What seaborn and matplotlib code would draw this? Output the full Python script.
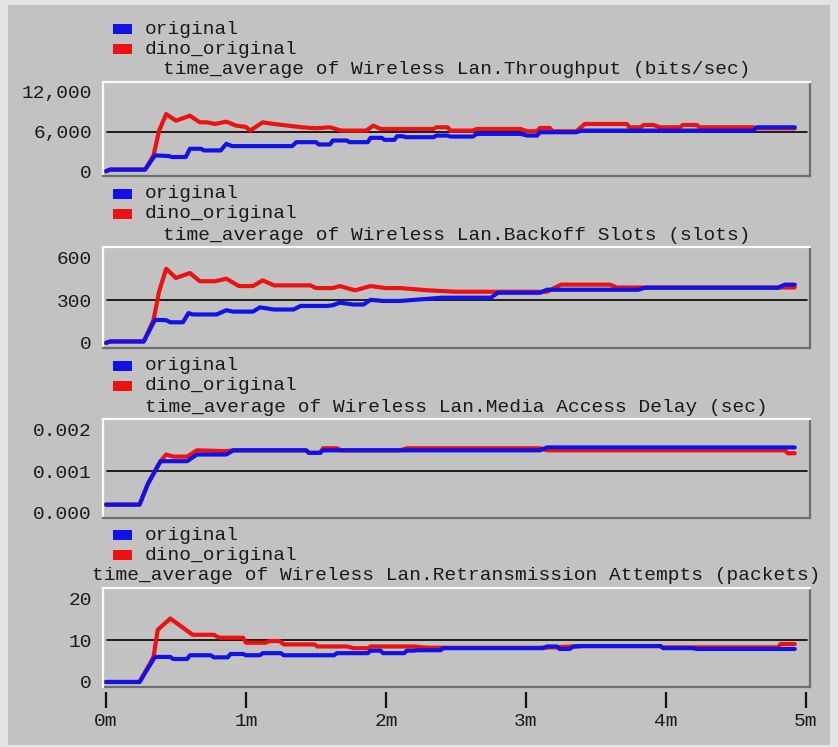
import matplotlib
matplotlib.use("Agg")
import matplotlib.pyplot as plt
from matplotlib.patches import Rectangle
import pandas as pd
import seaborn as sns

W, H = 838, 747

series_names = ["original", "dino_original"]
series_colors = {"original": "#1212e6", "dino_original": "#ec1212"}

titles = [
    "time_average of Wireless Lan.Throughput (bits/sec)",
    "time_average of Wireless Lan.Backoff Slots (slots)",
    "time_average of Wireless Lan.Media Access Delay (sec)",
    "time_average of Wireless Lan.Retransmission Attempts (packets)",
]
y_ticks = [[0, 6000, 12000], [0, 300, 600], [0, 0.001, 0.002], [0, 10, 20]]
y_tick_labels = [
    ["0", "6,000", "12,000"],
    ["0", "300", "600"],
    ["0.000", "0.001", "0.002"],
    ["0", "10", "20"],
]
x_ticks = [0, 1, 2, 3, 4, 5]
x_tick_labels = ["0m", "1m", "2m", "3m", "4m", "5m"]

# throughput (bits/sec), time in minutes
thr_orig_t = [0.00, 0.03, 0.28, 0.35, 0.45, 0.47, 0.57, 0.60, 0.68, 0.70, 0.82, 0.86, 0.90, 1.33,
              1.36, 1.50, 1.52, 1.60, 1.62, 1.72, 1.74, 1.87, 1.89, 1.97, 1.99, 2.06, 2.08, 2.12,
              2.14, 2.34, 2.36, 2.44, 2.46, 2.62, 2.65, 2.96, 3.01, 3.08, 3.10, 3.36, 3.40, 4.62,
              4.65, 4.92]
thr_orig_v = [0, 250, 250, 2400, 2300, 2150, 2150, 3400, 3400, 3150, 3150, 4150, 3800, 3800,
              4400, 4400, 4050, 4050, 4650, 4650, 4400, 4400, 5050, 5050, 4750, 4750, 5300, 5300,
              5150, 5150, 5400, 5400, 5250, 5250, 5650, 5650, 5400, 5400, 5900, 5900, 6150, 6150,
              6650, 6650]
thr_dino_t = [0.00, 0.03, 0.28, 0.34, 0.38, 0.43, 0.50, 0.60, 0.67, 0.72, 0.78, 0.86, 0.93, 1.00,
              1.03, 1.12, 1.20, 1.30, 1.40, 1.50, 1.60, 1.68, 1.86, 1.91, 1.96, 2.34, 2.36, 2.44,
              2.46, 2.62, 2.65, 2.96, 3.01, 3.08, 3.10, 3.17, 3.19, 3.36, 3.42, 3.72, 3.74, 3.82,
              3.84, 3.91, 3.96, 4.10, 4.12, 4.22, 4.24, 4.62, 4.65, 4.92]
thr_dino_v = [0, 250, 250, 2400, 6150, 8650, 7650, 8400, 7400, 7400, 7150, 7500, 6900, 6700,
              6150, 7400, 7150, 6900, 6650, 6500, 6650, 6150, 6150, 6900, 6400, 6400, 6650, 6650,
              6150, 6150, 6400, 6400, 6050, 6050, 6550, 6550, 6050, 6050, 7150, 7150, 6650, 6650,
              7000, 7000, 6650, 6650, 7000, 7000, 6650, 6650, 6500, 6500]

# backoff slots
bo_orig_t = [0.00, 0.03, 0.27, 0.35, 0.43, 0.46, 0.55, 0.59, 0.62, 0.79, 0.86, 0.91, 1.05, 1.10,
             1.20, 1.34, 1.39, 1.58, 1.62, 1.67, 1.77, 1.84, 1.89, 1.98, 2.10, 2.40, 2.75, 2.80,
             3.10, 3.15, 3.80, 3.85, 4.80, 4.85, 4.92]
bo_orig_v = [0, 10, 10, 162, 160, 145, 145, 210, 200, 200, 230, 220, 220, 250,
             235, 235, 260, 260, 265, 283, 270, 270, 303, 295, 295, 318, 318, 353,
             353, 374, 374, 388, 388, 410, 410]
bo_dino_t = [0.00, 0.03, 0.27, 0.34, 0.38, 0.43, 0.50, 0.60, 0.67, 0.78, 0.86, 0.95, 1.05, 1.12,
             1.20, 1.46, 1.50, 1.62, 1.67, 1.78, 1.89, 2.00, 2.10, 2.30, 2.50, 3.15, 3.25, 3.60,
             3.65, 4.92]
bo_dino_v = [0, 10, 10, 162, 362, 522, 457, 492, 434, 434, 452, 400, 400, 440,
             405, 405, 386, 386, 400, 370, 400, 386, 386, 370, 360, 360, 410, 410,
             390, 390]

# media access delay (sec)
mad_orig_t = [0.00, 0.24, 0.30, 0.39, 0.58, 0.65, 0.86, 0.91, 1.43, 1.45, 1.53, 1.55, 3.10, 3.15,
              4.92]
mad_orig_v = [0.0002, 0.0002, 0.0007, 0.00124, 0.00124, 0.0014, 0.0014, 0.0015, 0.0015, 0.00144,
              0.00144, 0.0015, 0.0015, 0.00157, 0.00157]
mad_dino_t = [0.00, 0.24, 0.30, 0.39, 0.43, 0.48, 0.58, 0.65, 0.86, 0.91, 1.43, 1.45, 1.53, 1.55,
              1.65, 1.68, 2.10, 2.15, 3.10, 3.15, 4.85, 4.87, 4.92]
mad_dino_v = [0.0002, 0.0002, 0.0007, 0.00124, 0.0014, 0.00135, 0.00135, 0.0015, 0.00148, 0.0015,
              0.0015, 0.00144, 0.00144, 0.00155, 0.00155, 0.0015, 0.0015, 0.00155, 0.00155, 0.0015,
              0.0015, 0.00143, 0.00143]

# retransmission attempts (packets)
rt_orig_t = [0.00, 0.24, 0.35, 0.46, 0.48, 0.58, 0.60, 0.75, 0.77, 0.87, 0.89, 0.98, 1.00, 1.10,
             1.12, 1.25, 1.27, 1.63, 1.65, 1.87, 1.89, 1.96, 1.98, 2.13, 2.15, 2.20, 2.22, 2.39,
             2.41, 3.12, 3.15, 3.22, 3.24, 3.31, 3.34, 3.41, 3.96, 3.98, 4.19, 4.22, 4.92]
rt_orig_v = [0, 0, 6.0, 6.0, 5.5, 5.5, 6.4, 6.4, 5.9, 5.9, 6.7, 6.7, 6.4, 6.4,
             6.9, 6.9, 6.4, 6.4, 6.9, 6.9, 7.5, 7.5, 6.9, 6.9, 7.5, 7.5, 7.6, 7.6,
             8.1, 8.1, 8.5, 8.5, 7.9, 7.9, 8.5, 8.6, 8.6, 8.1, 8.1, 7.9, 7.9]
rt_dino_t = [0.00, 0.24, 0.34, 0.37, 0.46, 0.57, 0.62, 0.77, 0.81, 0.98, 1.00, 1.14, 1.17, 1.24,
             1.27, 1.49, 1.51, 1.72, 1.77, 1.87, 1.89, 2.20, 2.30, 3.12, 3.41, 3.96, 3.98, 4.80,
             4.82, 4.92]
rt_dino_v = [0, 0, 6.0, 12.5, 15.2, 12.5, 11.3, 11.3, 10.6, 10.6, 9.4, 9.4, 9.8, 9.8,
             9.0, 9.0, 8.5, 8.5, 8.1, 8.1, 8.5, 8.5, 8.2, 8.2, 8.6, 8.6, 8.3, 8.3,
             9.1, 9.1]


def make_frame(orig_t, orig_v, dino_t, dino_v):
    a = pd.DataFrame({"time": orig_t, "value": orig_v, "run": "original"})
    b = pd.DataFrame({"time": dino_t, "value": dino_v, "run": "dino_original"})
    return pd.concat([b, a], ignore_index=True)


frames = [
    make_frame(thr_orig_t, thr_orig_v, thr_dino_t, thr_dino_v),
    make_frame(bo_orig_t, bo_orig_v, bo_dino_t, bo_dino_v),
    make_frame(mad_orig_t, mad_orig_v, mad_dino_t, mad_dino_v),
    make_frame(rt_orig_t, rt_orig_v, rt_dino_t, rt_dino_v),
]

BG = "#c2c2c2"
FONT = "Liberation Mono"
AX_LEFT, AX_RIGHT = 103, 810
tops = [82, 247, 419, 588]
bottoms = [176, 348, 518, 687]


def fx(px):
    return px / W


def fy(py):
    return 1 - py / H


sns.set_style("white")
plt.rcParams["font.family"] = [FONT, "DejaVu Sans"]

fig = plt.figure(figsize=(W / 100, H / 100), dpi=100)
fig.patch.set_facecolor("#e4e4e4")
fig.add_artist(Rectangle((fx(8), fy(745)), fx(822), 740 / H, transform=fig.transFigure,
                         facecolor=BG, edgecolor="none", zorder=-5))

for i, df in enumerate(frames):
    ax = fig.add_axes([fx(AX_LEFT), fy(bottoms[i]), fx(AX_RIGHT - AX_LEFT),
                       (bottoms[i] - tops[i]) / H])
    ax.set_facecolor(BG)
    sns.lineplot(data=df, x="time", y="value", hue="run",
                 hue_order=["dino_original", "original"], palette=series_colors,
                 estimator=None, sort=False, lw=3, legend=False, ax=ax)
    mid = y_ticks[i][1]
    ax.axhline(mid, xmin=0.006, xmax=0.996, color="black", lw=1.2, zorder=1)
    ax.set_xlim(-0.021, 5.029)
    ax.set_ylim(-0.12 * mid, 2.25 * mid)
    ax.set_xlabel("")
    ax.set_ylabel("")
    ax.set_yticks(y_ticks[i])
    ax.set_yticklabels(y_tick_labels[i], fontsize=14, color="#1a1a1a")
    ax.tick_params(axis="y", length=0, pad=8)

    for side in ["top", "left"]:
        ax.spines[side].set_color("#fafafa")
        ax.spines[side].set_linewidth(1.6)
    for side in ["bottom", "right"]:
        ax.spines[side].set_color("#6e6e6e")
        ax.spines[side].set_linewidth(1.6)

    if i == len(frames) - 1:
        ax.spines["bottom"].set_visible(False)
        ax.plot([0, 1], [0, 0], transform=ax.transAxes, color="#6e6e6e", lw=1.6,
                clip_on=False)
        ax.spines["bottom"].set_position(("outward", 3.6))
        ax.set_xticks(x_ticks)
        ax.set_xticklabels(x_tick_labels, fontsize=14, color="#1a1a1a")
        ax.tick_params(axis="x", direction="out", length=11.5, width=1.6,
                       color="#111111", pad=3.6, bottom=True)
    else:
        ax.set_xticks([])

    # title and legend above each panel
    fig.text(fx((AX_LEFT + AX_RIGHT) / 2), fy(tops[i] - 12), titles[i], ha="center",
             va="center", fontsize=14, color="#1a1a1a")
    for k, name in enumerate(series_names):
        cy = tops[i] - 53 + 20 * k
        fig.add_artist(Rectangle((fx(113), fy(cy + 5)), fx(19), 10 / H,
                                 transform=fig.transFigure,
                                 facecolor=series_colors[name], edgecolor="none"))
        fig.text(fx(145), fy(cy), name, ha="left", va="center", fontsize=14,
                 color="#1a1a1a")

fig.savefig("out.png", dpi=100, facecolor=fig.get_facecolor())
